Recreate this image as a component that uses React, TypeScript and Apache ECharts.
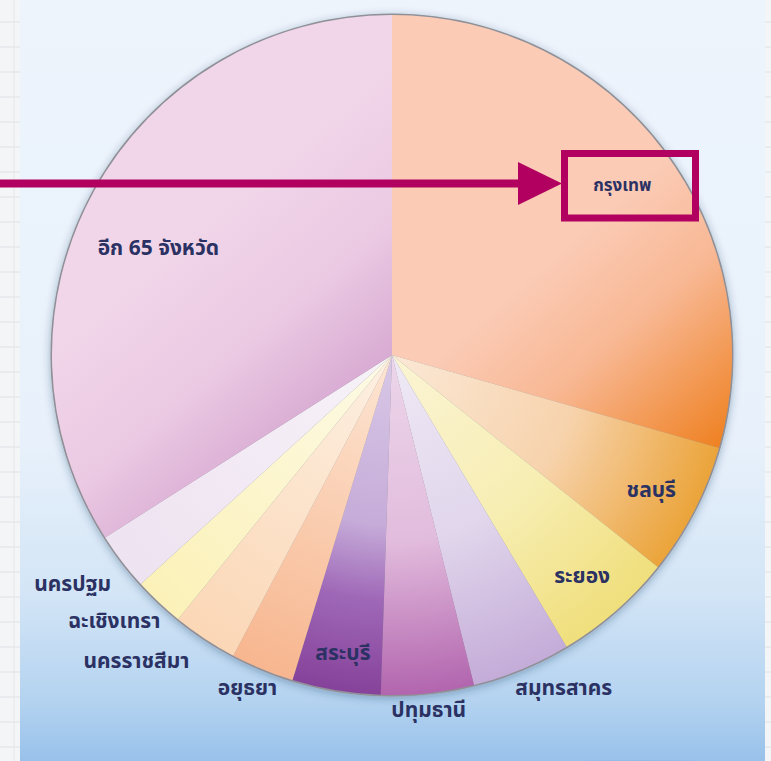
import React, { useEffect, useRef } from 'react';
import * as echarts from 'echarts';

// ---- data ----
const provinces = [
  'กรุงเทพ',
  'ชลบุรี',
  'ระยอง',
  'สมุทรสาคร',
  'ปทุมธานี',
  'สระบุรี',
  'อยุธยา',
  'นครราชสีมา',
  'ฉะเชิงเทรา',
  'นครปฐม',
  'อีก 65 จังหวัด',
];
const shares = [29.4, 6.3, 5.7, 4.7, 4.4, 4.2, 3.0, 3.1, 2.4, 2.75, 34.0];

// ---- styling ----
const CX = 392;
const CY = 355;
const R = 340;
const FONT = "Tahoma, 'Noto Sans Thai', 'Noto Sans', 'DejaVu Sans', sans-serif";
const TEXT = '#2b3263';
const MAGENTA = '#b1005f';

const radial = (stops: [number, string][]) =>
  new echarts.graphic.RadialGradient(
    CX,
    CY,
    R,
    stops.map(([offset, color]) => ({ offset, color })),
    true
  );
const linear = (x1: number, y1: number, x2: number, y2: number, stops: [number, string][]) =>
  new echarts.graphic.LinearGradient(
    x1,
    y1,
    x2,
    y2,
    stops.map(([offset, color]) => ({ offset, color })),
    true
  );

const sliceColors = [
  linear(560, 250, 730, 445, [[0, '#fbcbb6'], [0.4, '#f8b894'], [1, '#ee7f1e']]),
  radial([[0, '#fbe8d6'], [0.55, '#f7d3ad'], [1, '#eba43a']]),
  radial([[0, '#fbf4d4'], [0.55, '#f7eeb4'], [1, '#f0df7c']]),
  radial([[0, '#efe9f5'], [0.55, '#e1d6ec'], [1, '#c4acd8']]),
  radial([[0, '#ecd6ea'], [0.55, '#e2bcdd'], [1, '#b265ae']]),
  radial([[0, '#d8c8e6'], [0.5, '#c6acd9'], [0.72, '#9f68b7'], [1, '#86429a']]),
  radial([[0, '#fde6d4'], [1, '#f7b68f']]),
  radial([[0, '#fdf0e2'], [1, '#fbd7b6']]),
  radial([[0, '#fdfae6'], [1, '#fbf1b8']]),
  radial([[0, '#f7f2f8'], [1, '#eee3f1']]),
  linear(230, 190, 395, 385, [[0, '#f1d6e9'], [0.5, '#ebc9e3'], [1, '#d4a4cf']]),
];

// label distance from centre, small nudges and font size
const labelPlace: Record<string, { d: number; dx: number; dy: number; fs: number }> = {
  'กรุงเทพ': { d: 288, dx: -2, dy: 6, fs: 17 },
  'ชลบุรี': { d: 292, dx: -3, dy: 0, fs: 21 },
  'ระยอง': { d: 292, dx: -4, dy: -1, fs: 21 },
  'สมุทรสาคร': { d: 374, dx: 28, dy: -15, fs: 21 },
  'ปทุมธานี': { d: 356, dx: -1, dy: -2, fs: 21 },
  'สระบุรี': { d: 302, dx: 1, dy: -2, fs: 21 },
  'อยุธยา': { d: 363, dx: -5, dy: -5, fs: 21 },
  'นครราชสีมา': { d: 394, dx: -37, dy: -25, fs: 21 },
  'ฉะเชิงเทรา': { d: 389, dx: -9, dy: -19, fs: 21 },
  'นครปฐม': { d: 389, dx: -8, dy: -9, fs: 21 },
  'อีก 65 จังหวัด': { d: 259, dx: -4, dy: 20, fs: 21 },
};

export default function App() {
  const ref = useRef<HTMLDivElement>(null);

  useEffect(() => {
    document.body.style.margin = '0';
    if (!ref.current) return;
    const chart = echarts.init(ref.current, undefined, { renderer: 'svg' });

    const gridLines: any[] = [];
    for (let y = 22; y < 761; y += 25) {
      gridLines.push({
        type: 'line',
        shape: { x1: 0, y1: y, x2: 20, y2: y },
        style: { stroke: '#dfe2e6', lineWidth: 1 },
        z: -9,
      });
      gridLines.push({
        type: 'line',
        shape: { x1: 765, y1: y, x2: 771, y2: y },
        style: { stroke: '#dfe2e6', lineWidth: 1 },
        z: -9,
      });
    }

    const baseData = provinces.map((name, i) => ({ name, value: shares[i] }));

    const labelSeries = provinces.map((name, idx) => {
      const p = labelPlace[name];
      return {
        type: 'pie',
        center: [CX, CY],
        radius: [p.d - 4, p.d + 4],
        startAngle: 90,
        clockwise: true,
        silent: true,
        z: 5,
        itemStyle: { color: 'rgba(0,0,0,0)', borderWidth: 0 },
        emphasis: { disabled: true },
        labelLine: { show: false },
        labelLayout: { dx: p.dx, dy: p.dy },
        data: baseData.map((d, i) => ({
          ...d,
          label: {
            show: i === idx,
            position: 'inside',
            formatter: '{b}',
            color: TEXT,
            fontSize: p.fs,
            fontWeight: 'bold',
            fontFamily: FONT,
          },
        })),
      };
    });

    chart.setOption({
      animation: false,
      backgroundColor: '#f4f5f7',
      graphic: [
        ...gridLines,
        {
          type: 'line',
          shape: { x1: 14, y1: 0, x2: 14, y2: 761 },
          style: { stroke: '#e4e6ea', lineWidth: 1 },
          z: -9,
        },
        {
          type: 'rect',
          shape: { x: 20, y: 0, width: 745, height: 761 },
          style: {
            fill: new echarts.graphic.LinearGradient(0, 0, 0, 1, [
              { offset: 0, color: '#edf4fc' },
              { offset: 0.58, color: '#e8f1fb' },
              { offset: 0.78, color: '#d3e5f6' },
              { offset: 0.92, color: '#b4d3f0' },
              { offset: 1, color: '#98c1ea' },
            ]),
          },
          z: -8,
        },
        {
          type: 'ellipse',
          shape: { cx: 640, cy: 1060, rx: 760, ry: 300 },
          style: { fill: 'rgba(120,170,225,0.22)' },
          z: -7,
        },
        // annotation arrow and box
        {
          type: 'line',
          shape: { x1: 0, y1: 183.5, x2: 524, y2: 183.5 },
          style: { stroke: MAGENTA, lineWidth: 8 },
          z: 20,
        },
        {
          type: 'polygon',
          shape: { points: [[518, 162], [562, 183.5], [518, 205]] },
          style: { fill: MAGENTA },
          z: 20,
        },
        {
          type: 'rect',
          shape: { x: 564.5, y: 153.5, width: 131, height: 64.5 },
          style: { fill: 'none', stroke: MAGENTA, lineWidth: 7 },
          z: 20,
        },
      ],
      series: [
        {
          type: 'pie',
          center: [CX, CY],
          radius: [0, R + 1.5],
          silent: true,
          z: 1,
          label: { show: false },
          labelLine: { show: false },
          emphasis: { disabled: true },
          itemStyle: {
            color: '#8f9098',
            shadowBlur: 8,
            shadowColor: 'rgba(30,50,90,0.35)',
            shadowOffsetY: 2,
          },
          data: [{ name: 'outline', value: 1 }],
        },
        {
          type: 'pie',
          center: [CX, CY],
          radius: [0, R],
          startAngle: 90,
          clockwise: true,
          silent: true,
          z: 2,
          label: { show: false },
          labelLine: { show: false },
          emphasis: { disabled: true },
          data: baseData.map((d, i) => ({
            ...d,
            itemStyle: { color: sliceColors[i], borderWidth: 0 },
          })),
        },
        ...labelSeries,
      ],
    });

    return () => chart.dispose();
  }, []);

  return <div ref={ref} style={{ width: 771, height: 761 }} />;
}
